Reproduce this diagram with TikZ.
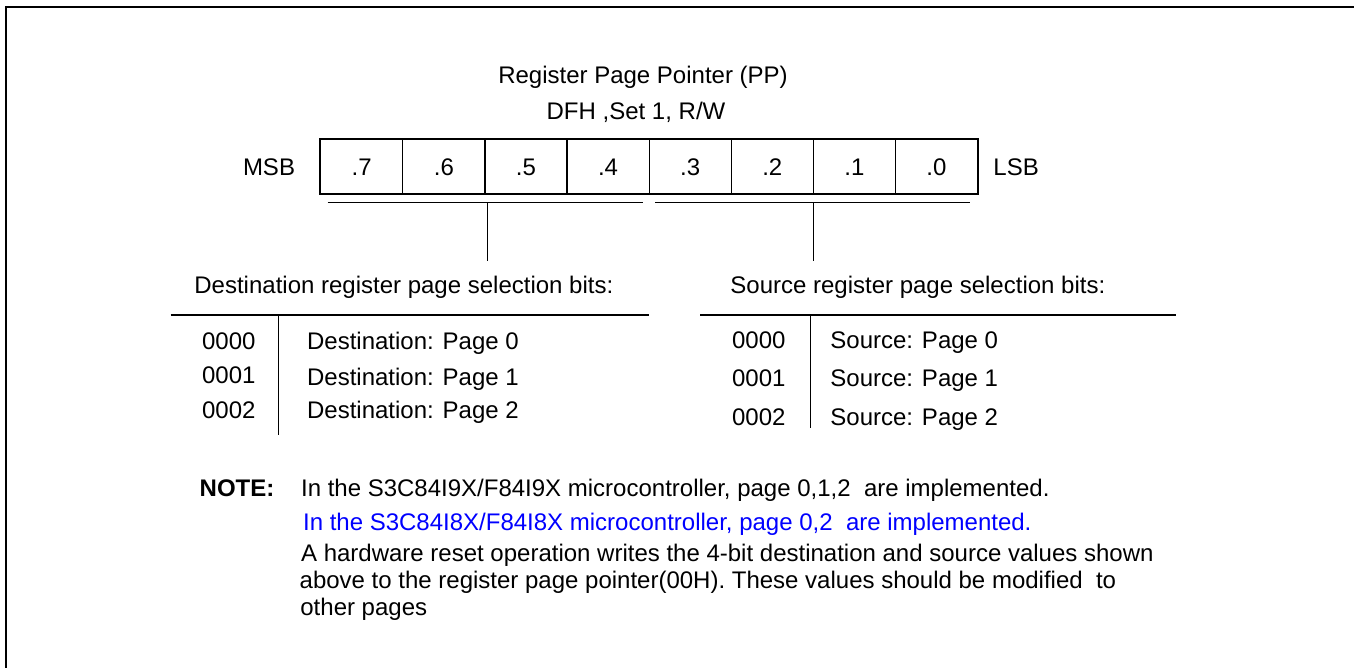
\documentclass[tikz,border=0pt]{standalone}
\usepackage{fontspec}
\setmainfont{Liberation Sans}

\begin{document}
\begin{tikzpicture}[x=0.5pt,y=-0.5pt]

\tikzset{
  TextStyle/.style = { inner sep = 0pt, text height = 8.6pt, text depth = 0pt,
                       font = \fontsize{12}{14}\selectfont },
  BitStyle/.style  = { draw, line width = 0.6pt, inner sep = 0pt,
                       minimum width = 41.05pt, minimum height = 27.35pt,
                       text height = 8.6pt, text depth = 0pt,
                       font = \fontsize{12}{14}\selectfont },
  RuleStyle/.style = { line width = 0.75pt } }

  \useasboundingbox (0,0) rectangle (1354,668);

  \coordinate (fb) at (6,668);
  \coordinate (ft) at (1354,7.5);
  \draw[line width=1pt] (fb) |- (ft);

  \node[TextStyle] (title) at (643,75) {Register Page Pointer (PP)};
  \node[TextStyle] (addr)  at (636,111) {DFH ,Set 1, R/W};

  \node[BitStyle] (b7) at (361.75,166.65) {.7};
  \node[BitStyle] (b6) at (443.85,166.65) {.6};
  \node[BitStyle] (b5) at (525.95,166.65) {.5};
  \node[BitStyle] (b4) at (608.05,166.65) {.4};
  \node[BitStyle] (b3) at (690.15,166.65) {.3};
  \node[BitStyle] (b2) at (772.25,166.65) {.2};
  \node[BitStyle] (b1) at (854.35,166.65) {.1};
  \node[BitStyle] (b0) at (936.45,166.65) {.0};
  \draw[line width=0.9pt] (b7.north west) rectangle (b0.south east);

  \node[TextStyle] (msb) at (269,167) {MSB};
  \node[TextStyle, anchor=west] (lsb) at (993,167) {LSB};

  \coordinate (dl) at (327.5,202.7);
  \coordinate (dr) at (642.5,202.7);
  \coordinate (ds) at (487.5,202.7);
  \coordinate (de) at (487.5,260.7);
  \coordinate (sl) at (655,202.7);
  \coordinate (sr) at (970,202.7);
  \coordinate (ss) at (813.5,202.7);
  \coordinate (se) at (813.5,260.7);
  \draw[RuleStyle] (dl) -- (dr);
  \draw[RuleStyle] (ds) -- (de);
  \draw[RuleStyle] (sl) -- (sr);
  \draw[RuleStyle] (ss) -- (se);

  \node[TextStyle, anchor=west] (dhead) at (194,285) {Destination register page selection bits:};
  \node[TextStyle, anchor=west] (shead) at (730,285) {Source register page selection bits:};

  \coordinate (dtl) at (170.7,315);
  \coordinate (dtr) at (649,315);
  \coordinate (dvt) at (278.3,315);
  \coordinate (dvb) at (278.3,435);
  \draw[RuleStyle] (dtl) -- (dtr);
  \draw[RuleStyle] (dvt) -- (dvb);

  \coordinate (stl) at (700,315);
  \coordinate (str) at (1176,315);
  \coordinate (svt) at (810.7,315);
  \coordinate (svb) at (810.7,428);
  \draw[RuleStyle] (stl) -- (str);
  \draw[RuleStyle] (svt) -- (svb);

  \node[TextStyle, anchor=west] (d0) at (201.7,340.7) {0000};
  \node[TextStyle, anchor=west] (d1) at (201.7,375) {0001};
  \node[TextStyle, anchor=west] (d2) at (201.7,410) {0002};
  \node[TextStyle, anchor=west] (dp0) at (306.7,340.7) {Destination: Page 0};
  \node[TextStyle, anchor=west] (dp1) at (306.7,377) {Destination: Page 1};
  \node[TextStyle, anchor=west] (dp2) at (306.7,410) {Destination: Page 2};

  \node[TextStyle, anchor=west] (s0) at (731.7,340) {0000};
  \node[TextStyle, anchor=west] (s1) at (731.7,378.3) {0001};
  \node[TextStyle, anchor=west] (s2) at (731.7,416.7) {0002};
  \node[TextStyle, anchor=west] (sp0) at (830,340) {Source: Page 0};
  \node[TextStyle, anchor=west] (sp1) at (830,378.3) {Source: Page 1};
  \node[TextStyle, anchor=west] (sp2) at (830,416.7) {Source: Page 2};

  \node[TextStyle, anchor=west, font=\fontsize{12}{14}\selectfont\bfseries] (note) at (199.3,488) {NOTE:};
  \node[TextStyle, anchor=west] (n1) at (300.7,488) {In the S3C84I9X/F84I9X microcontroller, page 0,1,2~ are implemented.};
  \node[TextStyle, anchor=west, text=blue] (n2) at (302.7,521.7) {In the S3C84I8X/F84I8X microcontroller, page 0,2~ are implemented.};
  \node[TextStyle, anchor=west] (n3) at (300.7,553) {A hardware reset operation writes the 4-bit destination and source values shown};
  \node[TextStyle, anchor=west] (n4) at (299.3,580) {above to the register page pointer(00H). These values should be modified~ to};
  \node[TextStyle, anchor=west] (n5) at (300,606.7) {other pages};

\end{tikzpicture}
\end{document}
